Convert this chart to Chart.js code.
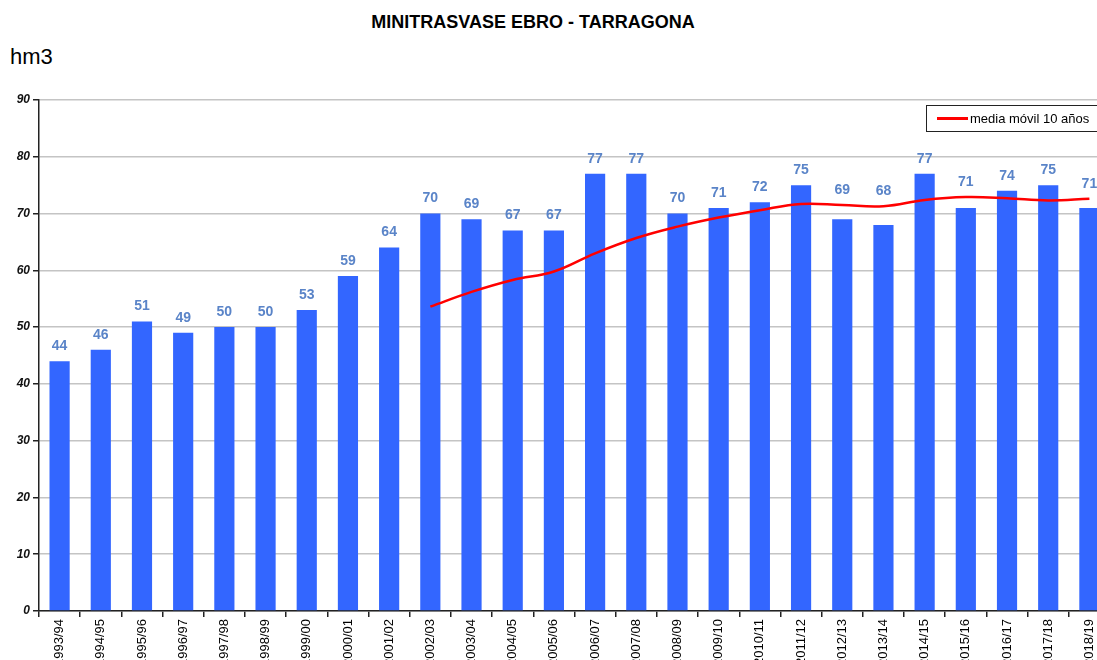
<!DOCTYPE html>
<html>
<head>
<meta charset="utf-8">
<script src="https://cdn.jsdelivr.net/npm/chart.js@4"></script>
<style>
  html, body { margin: 0; padding: 0; background: #fff; overflow: hidden; }
  body { width: 1097px; height: 660px; position: relative; font-family: Arial, "Liberation Sans", sans-serif; }
  #title { position: absolute; left: 0; width: 1066px; top: 12px; text-align: center; font-weight: bold; font-size: 18px; color: #000; }
  #unit { position: absolute; left: 10px; top: 44px; font-size: 22px; color: #000; }
  #chartBox { position: absolute; left: 0; top: 0; }
</style>
</head>
<body>
<div id="title">MINITRASVASE EBRO - TARRAGONA</div>
<div id="unit">hm3</div>
<div id="chartBox"><canvas id="minitrasvase" width="1120" height="700"></canvas></div>
<script>
// hydrological years
var years = ["1993/94", "1994/95", "1995/96", "1996/97", "1997/98", "1998/99", "1999/00",
    "2000/01", "2001/02", "2002/03", "2003/04", "2004/05", "2005/06", "2006/07", "2007/08",
    "2008/09", "2009/10", "2010/11", "2011/12", "2012/13", "2013/14", "2014/15", "2015/16",
    "2016/17", "2017/18", "2018/19"];

// volume transferred per year (hm3)
var volumes = [44, 46, 51, 49, 50, 50, 53, 59, 64, 70, 69, 67, 67,
    77, 77, 70, 71, 72, 75, 69, 68, 77, 71, 74, 75, 71];

// 10 year moving average (only from the tenth year on)
var movingAvg = [null, null, null, null, null, null, null, null, null, 53.6, 56.2, 58.3, 59.8,
    63.0, 65.7, 67.7, 69.3, 70.6, 71.7, 71.5, 71.3, 72.4, 72.9, 72.7, 72.3, 72.6];

var yTicks = [0, 10, 20, 30, 40, 50, 60, 70, 80, 90];

// value labels over each bar, lifted above the red line where it passes higher
var barLabels = {
    id: "barLabels",
    afterDatasetsDraw: function (chart) {
        var ctx = chart.ctx;
        var bars = chart.getDatasetMeta(1).data;
        var pts = chart.getDatasetMeta(0).data;
        ctx.save();
        ctx.font = "bold 14px Arial";
        ctx.fillStyle = "#5a84c8";
        ctx.textAlign = "center";
        ctx.textBaseline = "middle";
        bars.forEach(function (bar, i) {
            var top = bar.y;
            if (movingAvg[i] !== null) top = Math.min(top, pts[i].y);
            ctx.fillText(volumes[i], bar.x, top - 15);
        });
        ctx.restore();
    }
};

// boxed legend in the top right corner of the plot
var boxLegend = {
    id: "boxLegend",
    afterDraw: function (chart) {
        var ctx = chart.ctx;
        var area = chart.chartArea;
        var x = area.right - 184, y = area.top + 5;
        ctx.save();
        ctx.fillStyle = "#fff";
        ctx.fillRect(x, y, 200, 26);
        ctx.strokeStyle = "#222";
        ctx.lineWidth = 1;
        ctx.strokeRect(x + 0.5, y + 0.5, 200, 26);
        ctx.strokeStyle = "#ff0000";
        ctx.lineWidth = 3;
        ctx.beginPath();
        ctx.moveTo(x + 11, y + 13.5);
        ctx.lineTo(x + 42, y + 13.5);
        ctx.stroke();
        ctx.fillStyle = "#000";
        ctx.font = "13px Arial";
        ctx.textBaseline = "middle";
        ctx.fillText("media móvil 10 años", x + 44, y + 14);
        ctx.restore();
    }
};

var ctx = document.getElementById("minitrasvase").getContext("2d");
var chart = new Chart(ctx, {
    type: "bar",
    data: {
        labels: years,
        datasets: [
            {
                type: "line",
                label: "media móvil 10 años",
                data: movingAvg,
                borderColor: "#ff0000",
                borderWidth: 2.5,
                pointRadius: 0,
                tension: 0.4,
                fill: false,
                order: 0
            },
            {
                label: "hm3",
                data: volumes,
                backgroundColor: "#3366ff",
                barPercentage: 0.49,
                categoryPercentage: 1,
                order: 1
            }
        ]
    },
    options: {
        responsive: false,
        animation: false,
        layout: { padding: { top: 100, left: 0, right: 10, bottom: 0 } },
        plugins: {
            legend: { display: false },
            title: { display: false },
            tooltip: { enabled: false }
        },
        scales: {
            x: {
                grid: { display: true, drawOnChartArea: false, offset: true, tickLength: 6, tickColor: "#222", lineWidth: 1.5 },
                border: { color: "#222", width: 1.5 },
                ticks: {
                    color: "#000",
                    font: { family: "Arial", size: 13 },
                    minRotation: 90,
                    maxRotation: 90,
                    autoSkip: false,
                    padding: 2
                },
                afterFit: function (scale) { scale.height = 89; }
            },
            y: {
                min: 0,
                max: 90,
                afterBuildTicks: function (scale) {
                    scale.ticks = yTicks.map(function (v) { return { value: v }; });
                },
                grid: { color: "#c4c4c4", lineWidth: 1.5, tickLength: 6, tickColor: "#222" },
                border: { color: "#222", width: 1.5 },
                ticks: {
                    color: "#111",
                    font: { family: "Arial", size: 12, style: "italic", weight: "bold" },
                    padding: 3
                },
                afterFit: function (scale) { scale.width = 39; }
            }
        }
    },
    plugins: [barLabels, boxLegend]
});
</script>
</body>
</html>
